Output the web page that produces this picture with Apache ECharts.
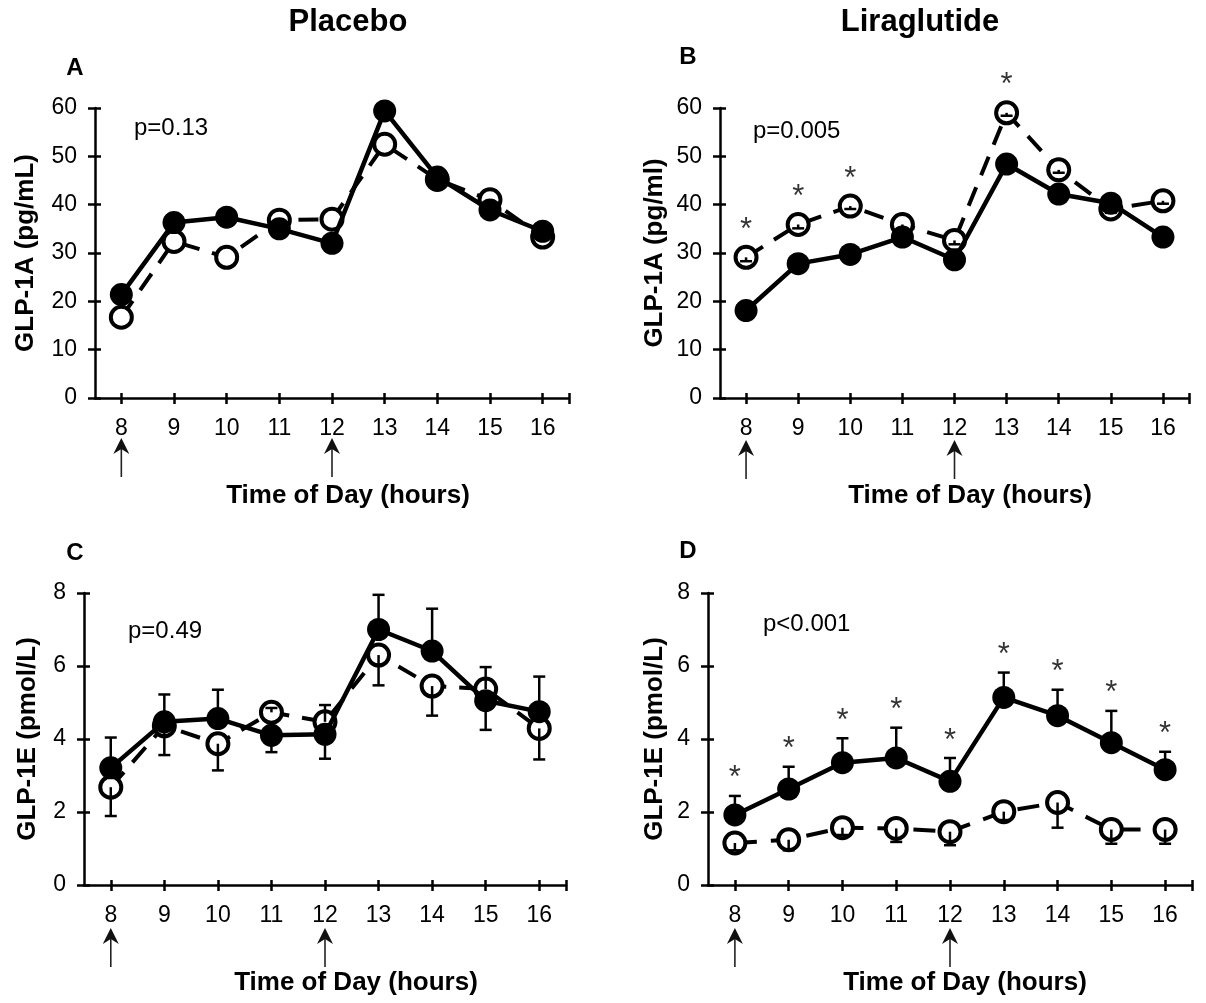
<!DOCTYPE html>
<html>
<head>
<meta charset="utf-8">
<script src="https://cdn.jsdelivr.net/npm/echarts@6/dist/echarts.min.js"></script>
<style>
html,body{margin:0;padding:0;background:#fff;}
#chart{width:1206px;height:1003px;}
</style>
</head>
<body>
<div id="chart"></div>
<script>
// ---- data ----
const hours = [8, 9, 10, 11, 12, 13, 14, 15, 16];
const xTickLabels = ['8', '9', '10', '11', '12', '13', '14', '15', '16'];
const mealHours = [8, 12];

// Panel A: Placebo, GLP-1A (pg/mL)
const aFilled = [21.4, 36.3, 37.4, 35.0, 32.0, 59.4, 45.7, 38.9, 34.5];
const aOpen   = [16.7, 32.4, 29.1, 36.8, 37.0, 52.5, 45.2, 41.0, 33.3];

// Panel B: Liraglutide, GLP-1A (pg/ml)
const bFilled = [18.1, 27.8, 29.7, 33.3, 28.6, 48.4, 42.2, 40.3, 33.3];
const bOpen   = [29.1, 35.9, 39.7, 35.9, 32.6, 59.0, 47.2, 39.1, 40.8];
const bOpenErr = [-0.8, -0.8, -0.6, -0.8, -0.8, -0.6, -0.6, -0.8, -0.6];
const bSigHours = [8, 9, 10, 13];

// Panel C: Placebo, GLP-1E (pmol/L)
const cFilled    = [3.21, 4.47, 4.56, 4.10, 4.13, 7.00, 6.41, 5.05, 4.75];
const cOpen      = [2.68, 4.36, 3.87, 4.73, 4.47, 6.30, 5.45, 5.37, 4.29];
const cFilledErr = [0.83, 0.75, 0.79, -0.46, -0.67, 0.95, 1.16, -0.80, 0.96];
const cOpenErr   = [-0.79, -0.80, -0.73, 0.12, 0.46, -0.83, -0.81, 0.60, -0.85];

// Panel D: Liraglutide, GLP-1E (pmol/L)
const dFilled    = [1.92, 2.63, 3.35, 3.48, 2.84, 5.14, 4.64, 3.90, 3.16];
const dOpen      = [1.15, 1.24, 1.57, 1.55, 1.46, 2.01, 2.26, 1.52, 1.52];
const dFilledErr = [0.52, 0.61, 0.67, 0.83, 0.64, 0.68, 0.71, 0.87, 0.49];
const dOpenErr   = [-0.20, -0.29, -0.20, -0.37, -0.37, -0.23, -0.69, -0.39, -0.39];
const dSigHours  = [8, 9, 10, 11, 12, 13, 14, 15, 16];

const FONT = 'Liberation Sans, Arial, Helvetica, sans-serif';

const panels = [
  { letter: 'A', grid: { left: 95, top: 108, width: 474, height: 290 }, yMax: 60, yInt: 10,
    yName: 'GLP-1A (pg/mL)', nameGap: 56, filled: aFilled, open: aOpen,
    pText: 'p=0.13', pPos: [134, 128], letterPos: [75, 68], xTitlePos: [348, 496], arrowY: [438, 477], dash: [20, 13] },
  { letter: 'B', grid: { left: 720, top: 108, width: 469, height: 290 }, yMax: 60, yInt: 10,
    yName: 'GLP-1A (pg/ml)', nameGap: 52, filled: bFilled, open: bOpen, openErr: bOpenErr,
    sig: { hours: bSigHours, on: 'open', dist: 11 },
    pText: 'p=0.005', pPos: [753, 131], letterPos: [688, 57], xTitlePos: [970, 496], arrowY: [440, 479], dash: [20, 13] },
  { letter: 'C', grid: { left: 84, top: 593, width: 482, height: 292 }, yMax: 8, yInt: 2,
    yName: 'GLP-1E (pmol/L)', nameGap: 43, filled: cFilled, open: cOpen, filledErr: cFilledErr, openErr: cOpenErr,
    pText: 'p=0.49', pPos: [128, 631], letterPos: [75, 553], xTitlePos: [356, 983], arrowY: [928, 967], dash: [20, 13] },
  { letter: 'D', grid: { left: 708, top: 593, width: 484, height: 292 }, yMax: 8, yInt: 2,
    yName: 'GLP-1E (pmol/L)', nameGap: 40, filled: dFilled, open: dOpen, filledErr: dFilledErr, openErr: dOpenErr,
    sig: { hours: dSigHours, on: 'filledErr', dist: 1 },
    pText: 'p<0.001', pPos: [763, 624], letterPos: [688, 551], xTitlePos: [965, 983], arrowY: [928, 967], dash: [22, 14] }
];

function zip(xs, ys) { return xs.map((x, i) => [x, ys[i]]); }

function errRender(params, api) {
  const x = api.value(0), v = api.value(1), e = api.value(2);
  const p0 = api.coord([x, v]);
  const p1 = api.coord([x, v + e]);
  const hw = 6;
  return {
    type: 'group',
    children: [
      { type: 'line', shape: { x1: p0[0], y1: p0[1], x2: p1[0], y2: p1[1] }, style: { stroke: '#000', lineWidth: 2.5 } },
      { type: 'line', shape: { x1: p1[0] - hw, y1: p1[1], x2: p1[0] + hw, y2: p1[1] }, style: { stroke: '#000', lineWidth: 2.5 } }
    ]
  };
}

const grids = [], xAxes = [], yAxes = [], series = [];
panels.forEach((p, i) => {
  grids.push(Object.assign({ containLabel: false }, p.grid));
  const xBase = {
    type: 'value', gridIndex: i, min: 7.5, max: 16.5, position: 'bottom', splitLine: { show: false },
    axisLine: { show: true, onZero: false, lineStyle: { color: '#000', width: 2.5 } }
  };
  xAxes.push(Object.assign({}, xBase, {
    axisTick: { show: true, inside: false, length: 6, lineStyle: { color: '#000', width: 2.5 }, customValues: hours.concat([16.5]) },
    axisLabel: { show: true, margin: 19, fontSize: 23, color: '#000', fontFamily: FONT,
      customValues: hours, formatter: v => xTickLabels[hours.indexOf(v)] }
  }));
  xAxes.push(Object.assign({}, xBase, {
    axisLine: { show: false, onZero: false },
    axisTick: { show: true, inside: true, length: 5, lineStyle: { color: '#000', width: 2.5 }, customValues: hours.concat([16.5]) },
    axisLabel: { show: false }
  }));
  const yBase = {
    type: 'value', gridIndex: i, min: 0, max: p.yMax, interval: p.yInt, position: 'left', splitLine: { show: false },
    axisLine: { show: true, lineStyle: { color: '#000', width: 2.5 } }
  };
  yAxes.push(Object.assign({}, yBase, {
    name: p.yName, nameLocation: 'middle', nameGap: p.nameGap,
    nameTextStyle: { fontSize: 26, fontWeight: 'bold', color: '#000', fontFamily: FONT },
    axisTick: { show: true, inside: false, length: 7, lineStyle: { color: '#000', width: 2.5 } },
    axisLabel: { show: true, margin: 18, fontSize: 23, color: '#000', fontFamily: FONT }
  }));
  yAxes.push(Object.assign({}, yBase, {
    axisLine: { show: false },
    axisTick: { show: true, inside: true, length: 6, lineStyle: { color: '#000', width: 2.5 } },
    axisLabel: { show: false }
  }));
  const xi = 2 * i, yi = 2 * i;
  series.push({
    type: 'line', name: 'open ' + p.letter, xAxisIndex: xi, yAxisIndex: yi, z: 2,
    data: zip(hours, p.open), symbol: 'circle', symbolSize: 21,
    itemStyle: { color: '#fff', borderColor: '#000', borderWidth: 4 },
    lineStyle: { color: '#000', width: 4, type: p.dash },
    animation: false
  });
  if (p.openErr) {
    series.push({
      type: 'custom', xAxisIndex: xi, yAxisIndex: yi, z: 3,
      data: hours.map((h, k) => [h, p.open[k], p.openErr[k]]),
      encode: { x: 0, y: 1 }, renderItem: errRender, animation: false
    });
  }
  series.push({
    type: 'line', name: 'filled ' + p.letter, xAxisIndex: xi, yAxisIndex: yi, z: 4,
    data: zip(hours, p.filled), symbol: 'circle', symbolSize: 23,
    itemStyle: { color: '#000', borderColor: '#000', borderWidth: 0 },
    lineStyle: { color: '#000', width: 4.5 },
    animation: false
  });
  if (p.filledErr) {
    series.push({
      type: 'custom', xAxisIndex: xi, yAxisIndex: yi, z: 5,
      data: hours.map((h, k) => [h, p.filled[k], p.filledErr[k]]),
      encode: { x: 0, y: 1 }, renderItem: errRender, animation: false
    });
  }
  if (p.sig) {
    const sigData = p.sig.hours.map(h => {
      const k = hours.indexOf(h);
      const v = p.sig.on === 'open' ? p.open[k] : p.filled[k] + p.filledErr[k];
      return [h, v];
    });
    series.push({
      type: 'scatter', xAxisIndex: xi, yAxisIndex: yi, z: 6,
      data: sigData, symbolSize: 1, itemStyle: { color: 'rgba(0,0,0,0)' },
      label: { show: true, position: 'top', distance: p.sig.dist, formatter: '*', fontSize: 31, color: '#000', fontFamily: FONT },
      animation: false
    });
  }
});

const chart = echarts.init(document.getElementById('chart'), null, { renderer: 'canvas' });
chart.setOption({
  backgroundColor: '#fff',
  animation: false,
  grid: grids, xAxis: xAxes, yAxis: yAxes, series: series
});

// annotations: titles, letters, p-values, x-axis titles, meal arrows
const graphics = [];
const titleStyle = { fontSize: 31, fontWeight: 'bold', fill: '#000', fontFamily: FONT, align: 'center', verticalAlign: 'middle' };
graphics.push({ type: 'text', x: 348, y: 22, style: Object.assign({ text: 'Placebo' }, titleStyle) });
graphics.push({ type: 'text', x: 920, y: 22, style: Object.assign({ text: 'Liraglutide' }, titleStyle) });
panels.forEach((p, i) => {
  graphics.push({ type: 'text', x: p.letterPos[0], y: p.letterPos[1],
    style: { text: p.letter, fontSize: 24, fontWeight: 'bold', fill: '#000', fontFamily: FONT, align: 'center', verticalAlign: 'middle' } });
  graphics.push({ type: 'text', x: p.pPos[0], y: p.pPos[1],
    style: { text: p.pText, fontSize: 24, fill: '#000', fontFamily: FONT, align: 'left', verticalAlign: 'middle' } });
  graphics.push({ type: 'text', x: p.xTitlePos[0], y: p.xTitlePos[1],
    style: { text: 'Time of Day (hours)', fontSize: 26, fontWeight: 'bold', fill: '#000', fontFamily: FONT, align: 'center', verticalAlign: 'middle' } });
  mealHours.forEach(h => {
    const x = chart.convertToPixel({ xAxisIndex: 2 * i }, h);
    const t = p.arrowY[0], b = p.arrowY[1];
    graphics.push({ type: 'line', shape: { x1: x, y1: t + 10, x2: x, y2: b }, style: { stroke: '#222', lineWidth: 1.6 } });
    graphics.push({ type: 'polygon', shape: { points: [[x, t], [x - 8, t + 16], [x, t + 11], [x + 8, t + 16]] }, style: { fill: '#111' } });
  });
});
chart.setOption({ graphic: graphics });
</script>
</body>
</html>
